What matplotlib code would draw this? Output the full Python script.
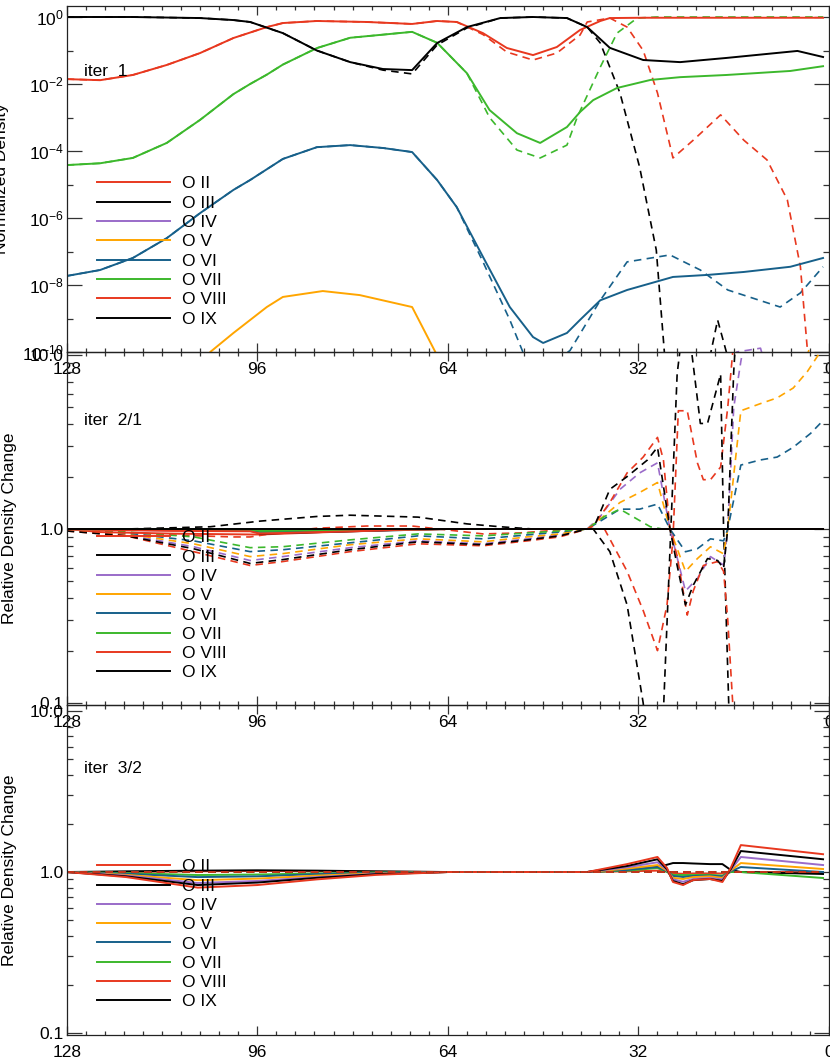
import matplotlib
matplotlib.use("Agg")
import matplotlib.pyplot as plt
from matplotlib.ticker import FixedLocator, FixedFormatter, MultipleLocator, NullFormatter
from matplotlib.lines import Line2D

plt.rcParams['font.family'] = ['Liberation Sans', 'DejaVu Sans']
plt.rcParams['mathtext.fontset'] = 'custom'
plt.rcParams['mathtext.rm'] = 'Liberation Sans'
plt.rcParams['mathtext.it'] = 'Liberation Sans'
plt.rcParams['mathtext.default'] = 'regular'
FS = 12.5

# ---------------- legend / styling data ----------------
ion_labels = ['O II', 'O III', 'O IV', 'O V', 'O VI', 'O VII', 'O VIII', 'O IX']
ion_colors = ['#e8381f', '#000000', '#9a6bc9', '#ffa500', '#17608a', '#3cb82c', '#e8381f', '#000000']

x_ticks = [128, 96, 64, 32, 0]
x_ticklabels = ['128', '96', '64', '32', '0']

# ---------------- panel 1: iter 1 (normalized density) ----------------
p1_o9_x = [128, 117, 105.6, 100, 97.2, 91.7, 86, 80.4, 74.9, 70, 65.8, 60.8, 55.2, 49.7, 44, 40.6, 36.8, 31.2, 25, 17.2, 10.4, 5.3, 1]
p1_o9_solid = [1.0, 1.0, 0.93, 0.81, 0.71, 0.33, 0.10, 0.045, 0.028, 0.026, 0.167, 0.50, 0.93, 1.0, 0.93, 0.50, 0.12, 0.052, 0.045, 0.060, 0.079, 0.097, 0.064]
p1_o9d_x = [128, 117, 105.6, 100, 97.2, 91.7, 86, 80.4, 74.9, 70, 65.8, 60.8, 55.2, 49.7, 44, 40.6, 38.4, 35.1, 31.8, 29, 27.2, 21, 18.7, 15.7, 14]
p1_o9_dash = [1.0, 1.0, 0.93, 0.81, 0.71, 0.33, 0.10, 0.045, 0.026, 0.020, 0.146, 0.47, 0.93, 1.0, 0.93, 0.5, 0.167, 5.4e-3, 3.3e-5, 1.1e-7, 1e-11, 1e-11, 9e-10, 1e-11, 1e-12]

p1_o8_x = [128, 122.4, 116.9, 111.2, 105.6, 100, 94.4, 91.7, 86, 77.6, 70, 65.8, 62.5, 58.1, 54.1, 49.7, 45.7, 41.8, 38.4, 36.8, 31.2, 1]
p1_o8_solid = [0.014, 0.013, 0.0186, 0.037, 0.084, 0.236, 0.50, 0.66, 0.76, 0.71, 0.62, 0.76, 0.71, 0.33, 0.119, 0.073, 0.127, 0.41, 0.76, 0.93, 0.95, 0.95]
p1_o8d_x = [128, 122.4, 116.9, 111.2, 105.6, 100, 94.4, 91.7, 86, 77.6, 70, 65.8, 62.5, 58.1, 54.1, 49.7, 45.7, 41.8, 40.6, 36.8, 33.9, 31.2, 28.8, 26.2, 22.8, 18.2, 14.3, 10.4, 7.0, 4.8, 3.6, 2.5]
p1_o8_dash = [0.014, 0.013, 0.0186, 0.037, 0.084, 0.236, 0.50, 0.66, 0.76, 0.71, 0.62, 0.76, 0.71, 0.30, 0.09, 0.052, 0.084, 0.29, 0.71, 0.93, 0.50, 0.10, 5.4e-3, 6.2e-5, 2.1e-4, 1.2e-3, 2.1e-4, 5.4e-5, 3.5e-6, 3.5e-8, 1e-10, 1e-12]

p1_o7_x = [128, 122.4, 116.9, 111.2, 105.6, 100, 97.2, 94.4, 91.7, 86, 80.4, 70, 65.8, 60.8, 57, 52.4, 48.5, 44, 41.8, 39.6, 35.6, 30, 25, 17.2, 6.5, 1]
p1_o7_solid = [3.8e-5, 4.3e-5, 6.2e-5, 1.74e-4, 8.5e-4, 5.0e-3, 0.010, 0.019, 0.038, 0.118, 0.24, 0.36, 0.17, 0.021, 1.67e-3, 3.4e-4, 1.74e-4, 5.2e-4, 1.46e-3, 3.3e-3, 7.6e-3, 0.0132, 0.016, 0.0186, 0.0245, 0.034]
p1_o7d_x = [128, 122.4, 116.9, 111.2, 105.6, 100, 97.2, 94.4, 91.7, 86, 80.4, 70, 65.8, 60.8, 57, 52.4, 48.5, 44, 42.3, 38.4, 35.6, 32.2, 29, 1]
p1_o7_dash = [3.8e-5, 4.3e-5, 6.2e-5, 1.74e-4, 8.5e-4, 5.0e-3, 0.010, 0.019, 0.038, 0.118, 0.24, 0.36, 0.17, 0.021, 1.0e-3, 1.07e-4, 6.2e-5, 1.5e-4, 1.0e-3, 0.032, 0.33, 0.93, 1.0, 1.0]

p1_o6_x = [128, 122.4, 116.9, 111.2, 105.6, 100, 97.2, 91.7, 86, 80.4, 74.9, 70, 65.8, 62.5, 58.1, 53.6, 49.7, 48, 44, 41.8, 38.4, 33.9, 26.2, 20.4, 14.3, 6.5, 1]
p1_o6_solid = [1.86e-8, 2.8e-8, 6.4e-8, 2.5e-7, 1.4e-6, 6.9e-6, 1.36e-5, 5.8e-5, 1.3e-4, 1.5e-4, 1.23e-4, 9.3e-5, 1.36e-5, 2.1e-6, 6.9e-8, 2.2e-9, 2.8e-10, 1.86e-10, 3.7e-10, 9.1e-10, 3.5e-9, 7.1e-9, 1.74e-8, 2.0e-8, 2.45e-8, 3.5e-8, 6.4e-8]
p1_o6d_x = [128, 122.4, 116.9, 111.2, 105.6, 100, 97.2, 91.7, 86, 80.4, 74.9, 70, 65.8, 62.5, 58.1, 53.6, 51.4, 48, 43.5, 38.4, 33.9, 26.7, 21.6, 17, 8.2, 4.8, 1]
p1_o6_dash = [1.86e-8, 2.8e-8, 6.4e-8, 2.5e-7, 1.4e-6, 6.9e-6, 1.36e-5, 5.8e-5, 1.3e-4, 1.5e-4, 1.23e-4, 9.3e-5, 1.36e-5, 2.1e-6, 4.9e-8, 9.1e-10, 1e-10, 3e-11, 1.1e-10, 3.5e-9, 4.9e-8, 7.9e-8, 2.8e-8, 7.1e-9, 2.2e-9, 5.8e-9, 3.5e-8]

p1_o5_x = [106.5, 103.9, 100, 94.4, 91.7, 85, 78.8, 70, 66.1, 64]
p1_o5_solid = [1e-11, 1e-10, 3.7e-10, 2.2e-9, 4.4e-9, 6.6e-9, 5.0e-9, 2.2e-9, 1e-10, 1e-11]
p1_o5d_x = [4.5, 3.4, 2.8]
p1_o5_dash = [3e-11, 1.1e-10, 3e-11]

p1_o4d_x = [16, 15.5, 11.5, 10.5]
p1_o4_dash = [3e-11, 1e-10, 1.3e-10, 3e-11]

# ---------------- panel 2: iter 2/1 (relative change) ----------------
p2_left_x = [128, 118, 106.7, 97.2, 91.7, 80.4, 69, 58.1, 50.6, 45.2, 40.6]

p2_o4_x = p2_left_x + [38.4, 35.1, 31.8, 28.8, 26.7, 24.1, 22.1, 19.9, 17.7, 17.0, 16.0, 14.8, 12]
p2_o4_dash = [0.987, 0.925, 0.791, 0.659, 0.694, 0.781, 0.855, 0.822, 0.878, 0.925, 1.0,
              1.18, 1.69, 2.1, 2.4, 1.0, 0.44, 0.52, 0.694, 0.62, 1.0, 4.98, 9.2, 30]

p2_o5_x = p2_left_x + [38.4, 35.1, 31.8, 28.8, 26.7, 24.1, 22.1, 19.9, 17.7, 17.0, 14.8, 11.6, 8.7, 6.0, 3.6, 1.0]
p2_o5_dash = [0.987, 0.937, 0.822, 0.694, 0.722, 0.812, 0.878, 0.844, 0.901, 0.937, 1.0,
              1.14, 1.42, 1.62, 1.85, 1.0, 0.571, 0.676, 0.79, 0.72, 1.0, 4.78, 5.24, 5.67, 6.46, 8.06, 11.0]

p2_o6_x = p2_left_x + [38.4, 35.1, 31.8, 28.8, 26.7, 24.1, 22.1, 19.9, 17.7, 17.0, 14.8, 11.6, 8.7, 6.0, 3.1, 1.0]
p2_o6_dash = [1.0, 0.949, 0.855, 0.741, 0.760, 0.833, 0.913, 0.878, 0.925, 0.962, 1.0,
              1.11, 1.30, 1.30, 1.39, 1.0, 0.74, 0.77, 0.878, 0.855, 1.0, 2.33, 2.49, 2.59, 2.95, 3.54, 4.2]

p2_o7_x = p2_left_x + [37.7, 35.1, 30.0, 28.0, 1.0]
p2_o7_dash = [1.0, 0.962, 0.901, 0.781, 0.791, 0.866, 0.937, 0.913, 0.949, 0.974, 1.0,
              1.18, 1.30, 1.03, 1.0, 1.0]

p2_o9_x = p2_left_x + [39.6, 36.8, 33.9, 30.5, 28.8, 26.7, 25.5, 24.1, 22.8, 20.4, 18.7, 17.7, 17.0, 16.0, 15.0]
p2_o9_dash = [0.974, 0.913, 0.770, 0.634, 0.667, 0.760, 0.844, 0.812, 0.866, 0.913, 1.0,
              1.0, 1.69, 2.0, 2.49, 2.95, 1.0, 0.617, 0.366, 0.475, 0.676, 0.659, 0.594, 1.0, 8.0, 30]

p2_o8_x = p2_left_x + [39.6, 36.8, 33.9, 31.2, 28.8, 27.8, 26.7, 25.5, 23.8, 22.8, 21.1, 18.7, 17.7, 17.0, 16.0, 15.0]
p2_o8_dash = [0.974, 0.913, 0.741, 0.617, 0.65, 0.741, 0.822, 0.801, 0.855, 0.901, 1.0,
              1.04, 1.42, 2.1, 2.59, 3.36, 2.49, 1.0, 0.70, 0.32, 0.44, 0.617, 0.65, 0.571, 0.3, 0.08, 0.03]

p2_o2_x = [128, 111.2, 100, 97.2, 91.7, 86, 77.6, 70, 62.5, 58.1, 52, 45.2, 40.6, 37.7, 33.9, 31.2, 28.8, 27.2, 26.2, 25.3, 23.8, 22.1, 21.1, 19.9, 18.2, 17.0, 16.0, 15.0]
p2_o2_dash = [1.0, 0.925, 0.90, 0.90, 0.962, 1.01, 1.04, 1.04, 0.974, 0.937, 0.949, 0.987, 1.0, 1.0, 0.571, 0.34, 0.20, 0.366, 0.878, 4.78, 4.78, 2.4, 1.92, 1.92, 2.27, 5.0, 12, 30]

p2_o3_x = [128, 118, 103.9, 95.5, 86, 80.4, 69, 60.8, 55.2, 49.7, 39.6, 36.8, 33.9, 31.2, 30.0, 28.5, 27.8, 25.5, 24.5, 23.0, 21.6, 20.4, 18.2, 17.7, 16.5]
p2_o3_dash = [1.0, 1.0, 1.03, 1.11, 1.18, 1.2, 1.17, 1.07, 1.03, 1.0, 1.0, 0.741, 0.366, 0.1, 0.04, 0.04, 0.09, 7.76, 15, 10, 4.04, 4.04, 7.76, 1.0, 0.04]

p2_solid_x = [128, 122.4, 110, 97.2, 95.5, 88, 80, 72, 64, 1]
p2_o2_solid = [1.0, 0.96, 0.94, 0.93, 0.93, 0.95, 0.97, 0.99, 1.0, 1.0]
p2_o3_solid = [1.0, 1.0, 0.995, 0.99, 0.94, 0.955, 0.97, 0.985, 1.0, 1.0]
p2_o4_solid = [1.0, 0.99, 0.98, 0.975, 0.95, 0.96, 0.975, 0.99, 1.0, 1.0]
p2_o5_solid = [1.0, 0.99, 0.985, 0.98, 0.96, 0.97, 0.98, 0.99, 1.0, 1.0]
p2_o6_solid = [1.0, 0.995, 0.99, 0.985, 0.965, 0.975, 0.985, 0.995, 1.0, 1.0]
p2_o7_solid = [1.0, 1.0, 0.995, 0.99, 0.975, 0.98, 0.99, 1.0, 1.0, 1.0]
p2_o8_solid = [1.0, 0.99, 0.975, 0.97, 0.94, 0.955, 0.97, 0.99, 1.0, 1.0]
p2_o9_solid = [1.0, 1.0, 1.0, 1.0, 1.0, 1.0, 1.0, 1.0, 1.0, 1.0]

# ---------------- panel 3: iter 3/2 (relative change) ----------------
p3_x = [128, 118, 106, 96, 86, 76, 64, 50, 40.6, 33.9, 28.8, 27.2, 26.2, 24.5, 22.8, 20.0, 17.9, 16.5, 14.8, 1.0]
p3_o2_solid = [1.0, 1.0, 1.01, 1.015, 1.01, 1.005, 1.0, 1.0, 1.0, 1.01, 1.02, 1.01, 0.98, 0.975, 0.98, 0.98, 0.98, 1.0, 1.0, 1.0]
p3_o3_solid = [1.0, 1.01, 1.02, 1.025, 1.02, 1.01, 1.0, 1.0, 1.0, 1.03, 1.074, 1.11, 1.137, 1.137, 1.13, 1.12, 1.12, 1.03, 1.0, 0.972]
p3_o4_solid = [1.0, 0.95, 0.855, 0.88, 0.93, 0.975, 1.0, 1.0, 1.0, 1.07, 1.15, 1.03, 0.90, 0.87, 0.905, 0.918, 0.90, 1.03, 1.24, 1.105]
p3_o5_solid = [1.0, 0.96, 0.89, 0.91, 0.95, 0.98, 1.0, 1.0, 1.0, 1.05, 1.105, 1.02, 0.92, 0.905, 0.93, 0.94, 0.92, 1.02, 1.137, 1.044]
p3_o6_solid = [1.0, 0.975, 0.93, 0.94, 0.97, 0.99, 1.0, 1.0, 1.0, 1.03, 1.074, 1.01, 0.945, 0.931, 0.945, 0.95, 0.94, 1.01, 1.074, 1.0]
p3_o7_solid = [1.0, 0.985, 0.958, 0.965, 0.98, 0.995, 1.0, 1.0, 1.0, 1.02, 1.059, 1.0, 0.96, 0.958, 0.958, 0.96, 0.95, 1.0, 1.0, 0.918]
p3_o8_solid = [1.0, 0.93, 0.80, 0.83, 0.90, 0.96, 1.0, 1.0, 1.0, 1.12, 1.24, 1.06, 0.867, 0.830, 0.892, 0.905, 0.867, 1.06, 1.47, 1.29]
p3_o9_solid = [1.0, 0.94, 0.83, 0.86, 0.92, 0.97, 1.0, 1.0, 1.0, 1.09, 1.20, 1.04, 0.88, 0.84, 0.89, 0.905, 0.88, 1.04, 1.35, 1.20]
p3_dash_x = [128, 1.0]
p3_dash = [1.0, 1.0]

# ---------------- figure ----------------
fig = plt.figure(figsize=(8.3, 10.6), dpi=100)
L, W = 66.7 / 830, 762.3 / 830
ax1 = fig.add_axes([L, 1 - 352 / 1060, W, 346 / 1060])
ax2 = fig.add_axes([L, 1 - 705 / 1060, W, 353 / 1060])
ax3 = fig.add_axes([L, 1 - 1035 / 1060, W, 330 / 1060])

LW_S, LW_D = 1.4, 1.2
DASH = (4.5, 3.2)


def solid(ax, x, y, c):
    ax.plot(x, y, color=c, lw=LW_S, solid_joinstyle='round')


def dashed(ax, x, y, c):
    ax.plot(x, y, color=c, lw=LW_D, dashes=DASH)


C = dict(zip(ion_labels, ion_colors))

# panel 1
dashed(ax1, p1_o4d_x, p1_o4_dash, C['O IV'])
dashed(ax1, p1_o5d_x, p1_o5_dash, C['O V'])
dashed(ax1, p1_o6d_x, p1_o6_dash, C['O VI'])
dashed(ax1, p1_o7d_x, p1_o7_dash, C['O VII'])
dashed(ax1, p1_o8d_x, p1_o8_dash, C['O VIII'])
dashed(ax1, p1_o9d_x, p1_o9_dash, C['O IX'])
solid(ax1, p1_o5_x, p1_o5_solid, C['O V'])
solid(ax1, p1_o6_x, p1_o6_solid, C['O VI'])
solid(ax1, p1_o7_x, p1_o7_solid, C['O VII'])
solid(ax1, p1_o8_x, p1_o8_solid, C['O VIII'])
solid(ax1, p1_o9_x, p1_o9_solid, C['O IX'])

# panel 2
dashed(ax2, p2_o2_x, p2_o2_dash, C['O II'])
dashed(ax2, p2_o3_x, p2_o3_dash, C['O III'])
dashed(ax2, p2_o4_x, p2_o4_dash, C['O IV'])
dashed(ax2, p2_o5_x, p2_o5_dash, C['O V'])
dashed(ax2, p2_o6_x, p2_o6_dash, C['O VI'])
dashed(ax2, p2_o7_x, p2_o7_dash, C['O VII'])
dashed(ax2, p2_o8_x, p2_o8_dash, C['O VIII'])
dashed(ax2, p2_o9_x, p2_o9_dash, C['O IX'])
for ys, lab in [(p2_o2_solid, 'O II'), (p2_o3_solid, 'O III'), (p2_o4_solid, 'O IV'),
                (p2_o5_solid, 'O V'), (p2_o6_solid, 'O VI'), (p2_o7_solid, 'O VII'),
                (p2_o8_solid, 'O VIII'), (p2_o9_solid, 'O IX')]:
    solid(ax2, p2_solid_x, ys, C[lab])

# panel 3
for ys, lab in [(p3_o2_solid, 'O II'), (p3_o3_solid, 'O III'), (p3_o7_solid, 'O VII'),
                (p3_o6_solid, 'O VI'), (p3_o5_solid, 'O V'), (p3_o4_solid, 'O IV'),
                (p3_o9_solid, 'O IX'), (p3_o8_solid, 'O VIII')]:
    solid(ax3, p3_x, ys, C[lab])
for lab in ['O IV', 'O V', 'O VI', 'O VII', 'O III', 'O II']:
    dashed(ax3, p3_dash_x, p3_dash, C[lab])

# axes formatting
p1_major = [1e-10, 1e-8, 1e-6, 1e-4, 1e-2, 1e0]
p1_minor = [1e-9, 1e-7, 1e-5, 1e-3, 1e-1]
p1_labels = ['$10^{-10}$', '$10^{-8}$', '$10^{-6}$', '$10^{-4}$', '$10^{-2}$', '$10^{0}$']
rel_major = [0.1, 1.0, 10.0]
rel_minor = [0.2, 0.3, 0.4, 0.5, 0.6, 0.7, 0.8, 0.9, 2, 3, 4, 5, 6, 7, 8, 9]
rel_labels = ['0.1', '1.0', '10.0']

setups = [
    (ax1, (1e-10, 2.13), p1_major, p1_minor, p1_labels, 'Normalized Density', -0.0757, 'iter  1', 0.812, 0.508),
    (ax2, (0.0974, 10.4), rel_major, rel_minor, rel_labels, 'Relative Density Change', -0.0656, 'iter  2/1', 0.807, 0.4955),
    (ax3, (0.0972, 10.9), rel_major, rel_minor, rel_labels, 'Relative Density Change', -0.0656, 'iter  3/2', 0.809, 0.533),
]
for ax, ylim, maj, mnr, labs, ylab, ylx, title, ty, legy in setups:
    ax.set_yscale('log')
    ax.set_xlim(128, 0)
    ax.set_ylim(*ylim)
    ax.xaxis.set_major_locator(FixedLocator(x_ticks))
    ax.xaxis.set_major_formatter(FixedFormatter(x_ticklabels))
    ax.xaxis.set_minor_locator(MultipleLocator(3.2))
    ax.xaxis.set_minor_formatter(NullFormatter())
    ax.yaxis.set_major_locator(FixedLocator(maj))
    ax.yaxis.set_major_formatter(FixedFormatter(labs))
    ax.yaxis.set_minor_locator(FixedLocator(mnr))
    ax.yaxis.set_minor_formatter(NullFormatter())
    ax.tick_params(which='both', direction='in', top=True, right=True, labelsize=FS,
                   color='#333333', width=0.9)
    ax.tick_params(axis='x', which='major', length=6.5, pad=7)
    ax.tick_params(axis='x', which='minor', length=3)
    ax.tick_params(axis='y', which='major', length=11, pad=2)
    ax.tick_params(axis='y', which='minor', length=4.5)
    for sp in ax.spines.values():
        sp.set_linewidth(0.9)
        sp.set_color('#222222')
    ax.set_ylabel(ylab, fontsize=FS)
    ax.yaxis.set_label_coords(ylx, 0.5)
    ax.text(0.0227, ty, title, transform=ax.transAxes, fontsize=FS, va='center', ha='left')
    handles = [Line2D([], [], color=c, lw=LW_S) for c in ion_colors]
    leg = ax.legend(handles, ion_labels, loc='upper left', bbox_to_anchor=(0.0397, legy),
                    frameon=False, fontsize=FS, handlelength=4.2, handletextpad=0.7,
                    labelspacing=0.24, borderpad=0, borderaxespad=0)
    leg.set_zorder(5)
    ax.patch.set_alpha(0)

fig.savefig('out.png', dpi=100)
